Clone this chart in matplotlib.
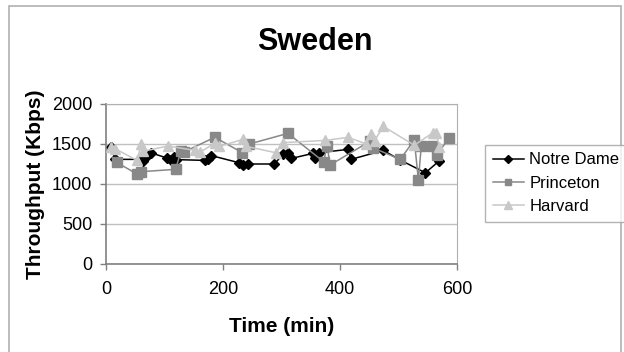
import matplotlib
matplotlib.use("Agg")
import matplotlib.pyplot as plt
from matplotlib.patches import Rectangle

# data
nd_t = [8, 16, 60, 64, 66, 77, 104, 111, 116, 119, 170, 175, 180, 228, 235, 243,
        288, 302, 311, 317, 354, 358, 364, 414, 419, 474, 503, 546, 569]
nd_v = [1460, 1308, 1308, 1285, 1320, 1390, 1325, 1300, 1340, 1305, 1295, 1310, 1355,
        1265, 1237, 1250, 1250, 1370, 1391, 1320, 1383, 1321, 1391, 1433, 1308, 1420,
        1300, 1140, 1285]

pr_t = [18, 53, 60, 119, 128, 133, 186, 233, 245, 311, 372, 378, 383, 451, 457,
        503, 527, 534, 539, 558, 565, 587]
pr_v = [1271, 1125, 1154, 1183, 1413, 1400, 1584, 1391, 1500, 1633, 1279, 1479, 1237,
        1533, 1450, 1308, 1550, 1050, 1479, 1479, 1362, 1579]

hv_t = [8, 16, 53, 60, 64, 106, 152, 160, 186, 194, 234, 240, 291, 302, 375, 414,
        445, 453, 459, 474, 527, 559, 564, 570]
hv_v = [1460, 1440, 1295, 1500, 1410, 1475, 1420, 1395, 1510, 1470, 1558, 1470, 1390,
        1517, 1545, 1583, 1500, 1625, 1540, 1720, 1485, 1641, 1641, 1467]

x_ticks = [0, 200, 400, 600]
y_ticks = [0, 500, 1000, 1500, 2000]

plt.rcParams['font.family'] = ['Liberation Sans', 'DejaVu Sans']

fig = plt.figure(figsize=(6.24, 3.52), dpi=100)
W, H = 624, 352

# outer chart border
fig.patches.append(Rectangle((8.5 / W, -0.05), (620.5 - 8.5) / W, 1.05 - 6 / H,
                             transform=fig.transFigure, fill=False,
                             edgecolor="#b0b0b0", linewidth=1.2))

ax = fig.add_axes([106 / W, (H - 264) / H, (457 - 106) / W, (264 - 104) / H])

# excel draws the first series at the bottom
ax.plot(nd_t, nd_v, color="black", lw=1.1, marker="D", ms=5, label="Notre Dame", zorder=1)
ax.plot(pr_t, pr_v, color="#888888", lw=1.1, marker="s", ms=6.5, label="Princeton", zorder=2)
ax.plot(hv_t, hv_v, color="#c8c8c8", lw=1.1, marker="^", ms=7, label="Harvard", zorder=3)

ax.set_xlim(0, 600)
ax.set_ylim(0, 2000)
ax.set_xticks(x_ticks)
ax.set_yticks(y_ticks)
ax.tick_params(labelsize=13, length=4, width=1, color="#808080", direction="out")
ax.tick_params(axis="x", pad=8)
ax.tick_params(axis="y", pad=6)
ax.yaxis.grid(True, color="#c0c0c0", lw=1)
ax.set_axisbelow(True)
for s in ["top", "right"]:
    ax.spines[s].set_color("#b0b0b0")
for s in ["left", "bottom"]:
    ax.spines[s].set_color("#808080")
    ax.spines[s].set_linewidth(1.2)

ax.set_xlabel("Time (min)", fontsize=15, fontweight="bold", labelpad=14)
ax.set_ylabel("Throughput (Kbps)", fontsize=15, fontweight="bold", labelpad=5)
fig.text(315 / W, 1 - 42 / H, "Sweden", fontsize=22, fontweight="bold",
         ha="center", va="center")

leg = fig.legend(loc="upper left", bbox_to_anchor=(485 / W, 1 - 145 / H),
                 borderaxespad=0, fontsize=12, frameon=True, fancybox=False,
                 edgecolor="#a0a0a0", handlelength=1.9, borderpad=0.45,
                 labelspacing=0.5, handletextpad=0.3, markerscale=0.75)
leg.get_frame().set_linewidth(1)

fig.savefig("out.png", dpi=100)
